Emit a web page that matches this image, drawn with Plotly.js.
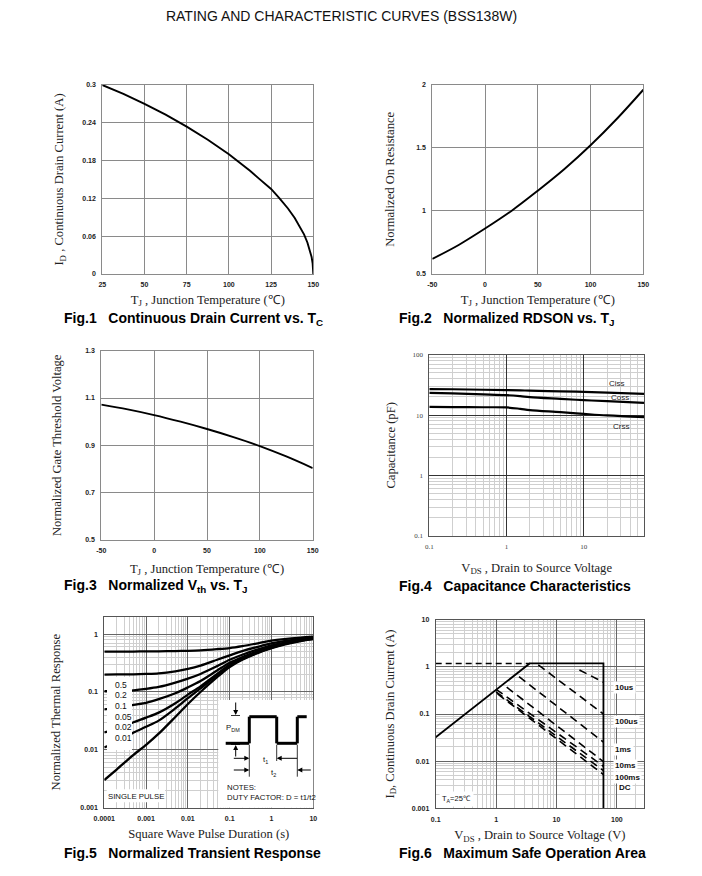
<!DOCTYPE html>
<html><head><meta charset="utf-8">
<script src="https://cdn.plot.ly/plotly-3.0.1.min.js"></script>
<style>html,body{margin:0;padding:0;background:#fff}#chart{width:702px;height:876px}</style>
</head><body><div id="chart"></div>
<script>
// ---------- Fig.1 Continuous Drain Current vs Tc ----------
const fig1_T  = [25, 37.5, 50, 62.5, 75, 87.5, 100, 106, 112.5, 118, 125, 130, 135, 139, 142, 144.5, 146.5, 148, 149, 149.6, 150];
const fig1_ID = [0.3, 0.286, 0.27, 0.253, 0.234, 0.213, 0.19, 0.178, 0.164, 0.151, 0.135, 0.12, 0.104, 0.089, 0.076, 0.063, 0.05, 0.038, 0.027, 0.017, 0];
const fig1_xticks = [25, 50, 75, 100, 125, 150];
const fig1_yticks = [0, 0.06, 0.12, 0.18, 0.24, 0.3];
const fig1_ytext  = ['0', '0.06', '0.12', '0.18', '0.24', '0.3'];

// ---------- Fig.2 Normalized RDSON vs TJ ----------
const fig2_T = [-50, -25, 0, 25, 50, 75, 100, 125, 150];
const fig2_R = [0.62, 0.73, 0.86, 1.0, 1.16, 1.33, 1.52, 1.73, 1.96];
const fig2_xticks = [-50, 0, 50, 100, 150];
const fig2_yticks = [0.5, 1, 1.5, 2];

// ---------- Fig.3 Normalized Vth vs TJ ----------
const fig3_T  = [-50, -25, 0, 25, 50, 75, 100, 125, 150];
const fig3_Vth = [1.072, 1.052, 1.028, 1.0, 0.969, 0.935, 0.897, 0.853, 0.804];
const fig3_xticks = [-50, 0, 50, 100, 150];
const fig3_yticks = [0.5, 0.7, 0.9, 1.1, 1.3];

// ---------- Fig.4 Capacitance ----------
const fig4_Vds  = [0.1, 0.2, 0.5, 1, 1.5, 2, 5, 10, 20, 60];
const fig4_Ciss = [27, 26.8, 26.3, 25.9, 25.7, 25.4, 24.8, 24.3, 23.6, 22.5];
const fig4_Coss = [23.4, 22.9, 22.1, 21.4, 20.6, 19.9, 18.6, 17.7, 17.0, 16.0];
const fig4_Crss = [13.7, 13.6, 13.5, 13.4, 12.7, 12.1, 11.2, 10.5, 9.9, 9.3];
const fig4_xticks = [0.1, 1, 10];
const fig4_xtext  = ['0.1', '1', '10'];
const fig4_yticks = [0.1, 1, 10, 100];
const fig4_ytext  = ['0.1', '1', '10', '100'];
const fig4_labels = ['Ciss', 'Coss', 'Crss'];

// ---------- Fig.5 Transient thermal response ----------
const fig5_t = [1e-4, 2e-4, 5e-4, 1e-3, 2e-3, 5e-3, 1e-2, 2e-2, 5e-2, 0.1, 0.2, 0.5, 1, 2, 5, 10];
const fig5_D050 = [0.50, 0.50, 0.50, 0.503, 0.505, 0.51, 0.515, 0.525, 0.55, 0.575, 0.62, 0.70, 0.77, 0.82, 0.87, 0.90];
const fig5_D020 = [0.200, 0.201, 0.202, 0.205, 0.21, 0.228, 0.25, 0.285, 0.36, 0.43, 0.51, 0.61, 0.69, 0.76, 0.83, 0.87];
const fig5_D010 = [0.103, 0.104, 0.107, 0.113, 0.122, 0.145, 0.17, 0.205, 0.28, 0.36, 0.44, 0.55, 0.64, 0.71, 0.80, 0.86];
const fig5_D005 = [0.050, 0.053, 0.060, 0.065, 0.075, 0.095, 0.12, 0.155, 0.235, 0.32, 0.40, 0.52, 0.61, 0.69, 0.79, 0.85];
const fig5_D002 = [0.020, 0.023, 0.030, 0.036, 0.044, 0.064, 0.09, 0.125, 0.205, 0.295, 0.38, 0.50, 0.59, 0.68, 0.78, 0.84];
const fig5_D001 = [0.011, 0.0135, 0.0199, 0.025, 0.032, 0.052, 0.078, 0.115, 0.195, 0.285, 0.37, 0.49, 0.58, 0.67, 0.77, 0.83];
const fig5_single = [0.003, 0.0046, 0.0082, 0.0122, 0.019, 0.037, 0.062, 0.10, 0.18, 0.27, 0.36, 0.48, 0.57, 0.66, 0.76, 0.82];
const fig5_xticks = [1e-4, 1e-3, 1e-2, 0.1, 1, 10];
const fig5_xtext  = ['0.0001', '0.001', '0.01', '0.1', '1', '10'];
const fig5_yticks = [0.001, 0.01, 0.1, 1];
const fig5_ytext  = ['0.001', '0.01', '0.1', '1'];
const fig5_dutyLabels = ['0.5', '0.2', '0.1', '0.05', '0.02', '0.01'];

// ---------- Fig.6 Safe Operating Area ----------
const fig6_limV = [0.1, 3.6, 60, 60];
const fig6_limI = [0.032, 1.18, 1.18, 0.001];
const fig6_dashV = [0.1, 3.6];
const fig6_dashI = [1.18, 1.18];
const fig6_p10us_V = [24, 60],   fig6_p10us_I = [0.86, 0.47];
const fig6_p100us_V = [5.0, 60], fig6_p100us_I = [1.1, 0.1];
const fig6_p1ms_V = [2.4, 60],   fig6_p1ms_I = [0.62, 0.0253];
const fig6_p10ms_V = [1.5, 60],  fig6_p10ms_I = [0.37, 0.0098];
const fig6_p100ms_V = [1.0, 60], fig6_p100ms_I = [0.334, 0.0078];
const fig6_p1s_V = [1.0, 60],    fig6_p1s_I = [0.293, 0.0063];
const fig6_pDC_V = [1.06, 60],   fig6_pDC_I = [0.266, 0.0052];
const fig6_xticks = [0.1, 1, 10, 100];
const fig6_xtext  = ['0.1', '1', '10', '100'];
const fig6_yticks = [0.001, 0.01, 0.1, 1, 10];
const fig6_ytext  = ['0.001', '0.01', '0.1', '1', '10'];
const fig6_labels = ['10us', '100us', '1ms', '10ms', '100ms', 'DC'];

// ---------------- styling helpers ----------------
const W = 702, H = 876;
const SANS = 'Liberation Sans, Arial, sans-serif';
const SERIF = 'Liberation Serif, Times New Roman, serif';
const px2x = p => p / W;
const px2y = p => 1 - p / H;
const tickFont = {family: SANS, size: 7, color: '#222', weight: 'bold'};
const titleFont = {family: SERIF, size: 12.6, color: '#222'};

function minorVals(d0, d1) {
  const v = [];
  for (let d = d0; d < d1; d++) for (let k = 2; k <= 9; k++) v.push(k * Math.pow(10, d));
  return v;
}
function linAxis(domain, range, tickvals, ticktext, title, standoff, anchor) {
  return {
    domain: domain, range: range, anchor: anchor, tickmode: 'array', tickvals: tickvals,
    ticktext: ticktext || tickvals.map(String),
    showgrid: true, gridcolor: '#8a8a8a', gridwidth: 1, zeroline: false,
    showline: true, mirror: true, linecolor: '#8a8a8a', linewidth: 1,
    ticks: '', ticklabelstandoff: 4, tickfont: tickFont, fixedrange: true, automargin: false,
    title: {text: title, font: titleFont, standoff: standoff}
  };
}
function logAxis(domain, range, tickvals, ticktext, title, standoff, anchor, d0, d1, tf) {
  return {
    type: 'log', domain: domain, range: range, anchor: anchor, tickmode: 'array', tickvals: tickvals, ticktext: ticktext,
    showgrid: true, gridcolor: '#666', gridwidth: 1, zeroline: false,
    minor: {tickmode: 'array', tickvals: minorVals(d0, d1), showgrid: true, gridcolor: '#cfcfcf', gridwidth: 1, ticks: ''},
    showline: true, mirror: true, linecolor: '#555', linewidth: 1,
    ticks: '', ticklabelstandoff: 4, tickfont: tf || tickFont, fixedrange: true, automargin: false,
    title: {text: title, font: titleFont, standoff: standoff}
  };
}

const dx = (a, b) => [px2x(a), px2x(b)];
const dy = (top, bot) => [px2y(bot), px2y(top)];
const tempTitle = 'T<sub>J</sub> , Junction Temperature (℃)';

const layout = {
  width: W, height: H, margin: {l: 0, r: 0, t: 0, b: 0},
  paper_bgcolor: '#fff', plot_bgcolor: '#fff', showlegend: false,
  title: {text: 'RATING AND CHARACTERISTIC CURVES (BSS138W)', x: px2x(341.5), xanchor: 'center', y: px2y(16), yanchor: 'middle',
          font: {family: SANS, size: 14, color: '#111'}},
  xaxis:  linAxis(dx(102.3, 313.3), [25, 150], fig1_xticks, null, tempTitle, 7, 'y'),
  yaxis:  linAxis(dy(85, 274), [0, 0.3], fig1_yticks, fig1_ytext, 'I<sub>D</sub> , Continuous Drain Current (A)', 15, 'x'),
  xaxis2: linAxis(dx(432.3, 643.3), [-50, 150], fig2_xticks, null, tempTitle, 7, 'y2'),
  yaxis2: linAxis(dy(84.7, 274), [0.5, 2], fig2_yticks, null, 'Normalized On Resistance', 18, 'x2'),
  xaxis3: linAxis(dx(101.3, 312.7), [-50, 150], fig3_xticks, null, tempTitle, 10, 'y3'),
  yaxis3: linAxis(dy(350.7, 540), [0.5, 1.3], fig3_yticks, null, 'Normalized Gate Threshold Voltage', 20, 'x3'),
  xaxis4: logAxis(dx(429.3, 644), [-1, Math.log10(60)], fig4_xticks, fig4_xtext, 'V<sub>DS</sub> , Drain to Source Voltage', 12, 'y4', -1, 2,
                  {family: SERIF, size: 7, color: '#444'}),
  yaxis4: logAxis(dy(354.7, 536), [-1, 2], fig4_yticks, fig4_ytext, 'Capacitance (pF)', 13, 'x4', -1, 2,
                  {family: SERIF, size: 7, color: '#444'}),
  xaxis5: logAxis(dx(104.3, 313.3), [-4, 1], fig5_xticks, fig5_xtext, 'Square Wave Pulse Duration (s)', 8, 'y5', -4, 1),
  yaxis5: logAxis(dy(616.7, 807.7), [-3, Math.log10(2)], fig5_yticks, fig5_ytext, 'Normalized Thermal Response', 16, 'x5', -3, 1),
  xaxis6: logAxis(dx(435.7, 644), [-1, 2.45], fig6_xticks, fig6_xtext, 'V<sub>DS</sub> , Drain to Source Voltage (V)', 8, 'y6', -1, 3),
  yaxis6: logAxis(dy(619.7, 808.3), [-3, 1], fig6_yticks, fig6_ytext, 'I<sub>D</sub>, Continuous Drain Current (A)', 14, 'x6', -3, 1),
  shapes: [], annotations: []
};
layout.xaxis4.gridcolor = '#333'; layout.yaxis4.gridcolor = '#333';

// Captions
const captions = [
  ['Fig.1   Continuous Drain Current vs. T<sub>C</sub>', 62, 319],
  ['Fig.2   Normalized RDSON vs. T<sub>J</sub>', 397, 319],
  ['Fig.3   Normalized V<sub>th</sub> vs. T<sub>J</sub>', 62, 586],
  ['Fig.4   Capacitance Characteristics', 397, 586],
  ['Fig.5   Normalized Transient Response', 62, 853],
  ['Fig.6   Maximum Safe Operation Area', 397, 853]
];
captions.forEach(c => layout.annotations.push({
  text: '<b>' + c[0] + '</b>', xref: 'paper', yref: 'paper', x: px2x(c[1]), y: px2y(c[2]),
  xanchor: 'left', yanchor: 'middle', showarrow: false, font: {family: SANS, size: 14, color: '#000'}
}));

// Fig.4 curve labels
[[0.874, 0.843], [0.888, 0.766], [0.892, 0.604]].forEach((p, i) => layout.annotations.push({
  text: fig4_labels[i], xref: 'x4 domain', yref: 'y4 domain', x: p[0], y: p[1], xanchor: 'center', yanchor: 'middle',
  showarrow: false, font: {family: SANS, size: 8, color: '#222'}
}));

// Fig.5 decorations
const f5 = {xref: 'x5 domain', yref: 'y5 domain'};
const f5x = p => (p - 104.3) / 209, f5y = p => (807.7 - p) / 191;
function f5rect(x0, x1, y0, y1) {
  layout.shapes.push(Object.assign({type: 'rect', x0: f5x(x0), x1: f5x(x1), y0: f5y(y1), y1: f5y(y0),
    fillcolor: '#fff', line: {width: 0}, layer: 'above'}, f5));
}
f5rect(107, 132, 677, 750);
f5rect(218.3, 313.3, 700, 807.7);
f5rect(106.7, 165, 789.3, 802.3);
[684.7, 695.3, 706, 716.7, 727.3, 738.3].forEach((y, i) => layout.annotations.push(Object.assign({
  text: fig5_dutyLabels[i], x: f5x(112.5), y: f5y(y), xanchor: 'left', yanchor: 'middle', showarrow: false,
  font: {family: SANS, size: 8.5, color: '#111'}}, f5)));
function f5line(x0, y0, x1, y1, w) {
  layout.shapes.push(Object.assign({type: 'line', x0: f5x(x0), y0: f5y(y0), x1: f5x(x1), y1: f5y(y1),
    line: {color: '#000', width: w}, layer: 'above'}, f5));
}
const wave = [[225.7, 743.3], [249.3, 743.3], [249.3, 716.7], [276.7, 716.7], [276.7, 743.3], [297.3, 743.3], [297.3, 716.7], [306.7, 716.7]];
for (let i = 0; i < wave.length - 1; i++) f5line(wave[i][0], wave[i][1], wave[i + 1][0], wave[i + 1][1], 3);
f5line(249.3, 745, 249.3, 776.7, 0.8);
f5line(276.7, 745, 276.7, 761, 0.8);
f5line(297.3, 745, 297.3, 776.7, 0.8);
f5line(231, 715.5, 240, 715.5, 0.8);
f5line(231, 744.5, 240, 744.5, 0.8);
function f5arrow(x, y, ax, ay) {
  layout.annotations.push(Object.assign({text: '', x: f5x(x), y: f5y(y), ax: ax, ay: ay, showarrow: true,
    arrowhead: 2, arrowsize: 1, arrowwidth: 1, arrowcolor: '#000'}, f5));
}
f5arrow(235.7, 715, 0, -14);
f5arrow(235.7, 745, 0, 13);
f5arrow(249.3, 758.3, -17, 0);
f5arrow(276.7, 758.3, 22, 0);
f5arrow(249.3, 770, -17, 0);
f5arrow(297.3, 770, 15, 0);
[['P<sub>DM</sub>', 233, 728.3, 'center'], ['t<sub>1</sub>', 265.3, 760, 'center'], ['t<sub>2</sub>', 273, 773.3, 'center'],
 ['NOTES:', 225, 787.7, 'left'], ['DUTY FACTOR: D = t1/t2', 225, 797.7, 'left'], ['SINGLE PULSE', 136, 796, 'center']]
  .forEach(a => layout.annotations.push(Object.assign({text: a[0], x: f5x(a[1]), y: f5y(a[2]), xanchor: a[3], yanchor: 'middle',
    showarrow: false, font: {family: SANS, size: 7.8, color: '#111'}}, f5)));

// Fig.6 decorations
const f6 = {xref: 'x6 domain', yref: 'y6 domain'};
const f6x = p => (p - 435.7) / 208.3, f6y = p => (808.3 - p) / 188.6;
[687.7, 721.7, 749, 765, 777, 787].forEach((y, i) => layout.annotations.push(Object.assign({
  text: '<b>' + fig6_labels[i] + '</b>', x: f6x(i === 5 ? 617 : 612.5), y: f6y(y), xanchor: 'left', yanchor: 'middle',
  showarrow: false, bgcolor: '#fff', borderpad: 1, font: {family: SANS, size: 8, color: '#111'}}, f6)));
layout.annotations.push(Object.assign({text: 'T<sub>A</sub>=25℃', x: f6x(457), y: f6y(799), xanchor: 'center', yanchor: 'middle',
  showarrow: false, bgcolor: '#fff', borderpad: 2, font: {family: SANS, size: 7.5, color: '#111'}}, f6));

// ---------------- traces ----------------
const blk = (w, dash) => ({color: '#000', width: w, dash: dash || 'solid'});
const traces = [
  {x: fig1_T, y: fig1_ID, xaxis: 'x', yaxis: 'y', mode: 'lines', line: blk(1.9)},
  {x: fig2_T, y: fig2_R, xaxis: 'x2', yaxis: 'y2', mode: 'lines', line: Object.assign(blk(1.9), {shape: 'spline'})},
  {x: fig3_T, y: fig3_Vth, xaxis: 'x3', yaxis: 'y3', mode: 'lines', line: Object.assign(blk(1.9), {shape: 'spline'})},
  {x: fig4_Vds, y: fig4_Ciss, xaxis: 'x4', yaxis: 'y4', mode: 'lines', name: 'Ciss', line: Object.assign(blk(2.2), {shape: 'spline'})},
  {x: fig4_Vds, y: fig4_Coss, xaxis: 'x4', yaxis: 'y4', mode: 'lines', name: 'Coss', line: Object.assign(blk(2.2), {shape: 'spline'})},
  {x: fig4_Vds, y: fig4_Crss, xaxis: 'x4', yaxis: 'y4', mode: 'lines', name: 'Crss', line: Object.assign(blk(2.2), {shape: 'spline'})}
];
[fig5_D050, fig5_D020, fig5_D010, fig5_D005, fig5_D002, fig5_D001, fig5_single].forEach(arr => traces.push(
  {x: fig5_t, y: arr, xaxis: 'x5', yaxis: 'y5', mode: 'lines', line: Object.assign(blk(2.3), {shape: 'spline', smoothing: 0.8})}));
traces.push({x: fig6_limV, y: fig6_limI, xaxis: 'x6', yaxis: 'y6', mode: 'lines', line: blk(1.8)});
traces.push({x: fig6_dashV, y: fig6_dashI, xaxis: 'x6', yaxis: 'y6', mode: 'lines', line: blk(1.6, '6px,4px')});
[[fig6_p10us_V, fig6_p10us_I], [fig6_p100us_V, fig6_p100us_I], [fig6_p1ms_V, fig6_p1ms_I], [fig6_p10ms_V, fig6_p10ms_I],
 [fig6_p100ms_V, fig6_p100ms_I], [fig6_p1s_V, fig6_p1s_I], [fig6_pDC_V, fig6_pDC_I]].forEach(p => traces.push(
  {x: p[0], y: p[1], xaxis: 'x6', yaxis: 'y6', mode: 'lines', line: blk(1.6, '8px,5px')}));

Plotly.newPlot('chart', traces, layout, {staticPlot: true, displayModeBar: false});
</script></body></html>
